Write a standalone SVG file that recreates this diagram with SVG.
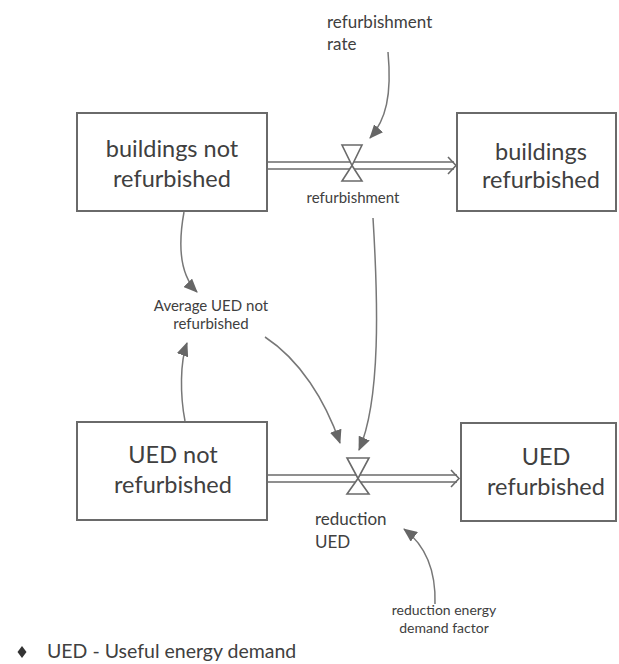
<svg xmlns="http://www.w3.org/2000/svg" width="619" height="664" viewBox="0 0 619 664">
<style>
  .box{fill:#fff;stroke:#6a6a6a;stroke-width:2}
  .big{font-family:Lato,"Open Sans","Liberation Sans",sans-serif;font-size:23.5px;fill:#404040;text-anchor:middle}
  .lbl{font-family:Lato,"Open Sans","Liberation Sans",sans-serif;fill:#404040}
  .pipe{stroke:#6a6a6a;stroke-width:1.6;fill:none}
  .valve{fill:#fff;stroke:#6a6a6a;stroke-width:1.6}
  .link{stroke:#777;stroke-width:1.5;fill:none;marker-end:url(#ah)}
</style>
<defs>
  <marker id="ah" markerUnits="userSpaceOnUse" markerWidth="14" markerHeight="12" refX="13" refY="6" orient="auto">
    <path d="M0,0 L14,6 L0,12 z" fill="#666"/>
  </marker>
</defs>
<rect width="619" height="664" fill="#fff"/>

<g id="connectors">
  <g id="flow-refurbishment">
    <line class="pipe" x1="267" y1="162" x2="454" y2="162"/>
    <line class="pipe" x1="267" y1="169" x2="454" y2="169"/>
    <polyline class="pipe" points="448,157 456,165.5 448,174"/>
  </g>
  <g id="flow-reduction">
    <line class="pipe" x1="267" y1="475" x2="457" y2="475"/>
    <line class="pipe" x1="267" y1="482" x2="457" y2="482"/>
    <polyline class="pipe" points="451,470 459,478.5 451,487"/>
  </g>
  <path class="link" d="M388,52 C392,95 386,120 370,138"/>
  <path class="link" d="M184,212 C178,245 180,275 197,292"/>
  <path class="link" d="M185,421 C180,395 180,362 187,343"/>
  <path class="link" d="M265,337 C300,360 325,400 340,443"/>
  <path class="link" d="M373,218 C378,300 381,400 359,450"/>
  <path class="link" d="M435,604 C436,570 425,545 404,529"/>
</g>

<g id="buildings-not-refurbished">
  <rect class="box" x="77" y="113" width="190" height="98"/>
  <text class="big" x="172" y="157">buildings not</text>
  <text class="big" x="172" y="187">refurbished</text>
</g>
<g id="buildings-refurbished">
  <rect class="box" x="457" y="113" width="159" height="98"/>
  <text class="big" x="541" y="160">buildings</text>
  <text class="big" x="541" y="188">refurbished</text>
</g>
<g id="ued-not-refurbished">
  <rect class="box" x="77" y="422" width="190" height="98"/>
  <text class="big" x="173" y="463">UED not</text>
  <text class="big" x="173" y="493">refurbished</text>
</g>
<g id="ued-refurbished">
  <rect class="box" x="461" y="423" width="155" height="98"/>
  <text class="big" x="546" y="465">UED</text>
  <text class="big" x="546" y="495">refurbished</text>
</g>

<g id="valve-refurbishment">
  <polygon class="valve" points="342,145 362,145 352,165.5"/>
  <polygon class="valve" points="352,165.5 362,181 342,181"/>
  <text class="lbl" x="353" y="203" font-size="15" text-anchor="middle">refurbishment</text>
</g>
<g id="valve-reduction">
  <polygon class="valve" points="347,458 369,458 358,478.5"/>
  <polygon class="valve" points="358,478.5 369,494 347,494"/>
  <text class="lbl" x="315" y="525" font-size="17">reduction</text>
  <text class="lbl" x="315" y="548" font-size="17">UED</text>
</g>

<g id="refurbishment-rate">
  <text class="lbl" x="327" y="28" font-size="17">refurbishment</text>
  <text class="lbl" x="327" y="50" font-size="17">rate</text>
</g>
<g id="average-ued">
  <text class="lbl" x="211" y="311" font-size="15" text-anchor="middle">Average UED not</text>
  <text class="lbl" x="211" y="329" font-size="15" text-anchor="middle">refurbished</text>
</g>
<g id="reduction-factor">
  <text class="lbl" x="444" y="615" font-size="14" text-anchor="middle">reduction energy</text>
  <text class="lbl" x="444" y="633" font-size="14" text-anchor="middle">demand factor</text>
</g>

<g id="legend">
  <polygon points="22,646 26.5,652 22,658 17.5,652" fill="#333"/>
  <text class="lbl" x="47" y="658" font-size="19.5">UED - Useful energy demand</text>
</g>
</svg>
